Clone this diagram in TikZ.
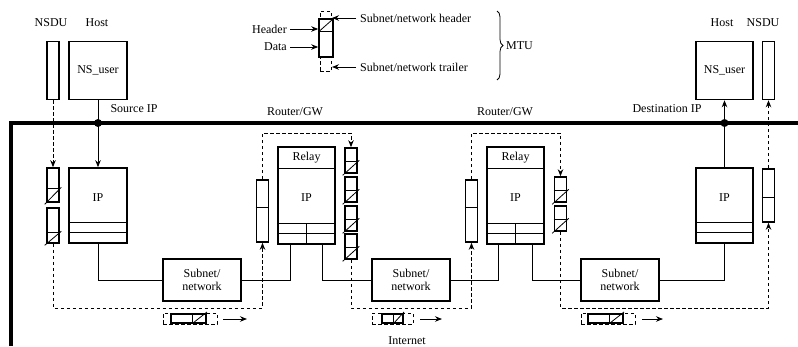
\documentclass[tikz,border=0pt]{standalone}
\usepackage{fontspec}
\setmainfont{Liberation Serif}
\usetikzlibrary{arrows.meta,decorations.pathreplacing,calc}
\tikzset{
  bx/.style={draw, line width=1.6pt, rectangle, inner sep=0pt},
  inl/.style={line width=0.8pt},
  conn/.style={line width=0.9pt},
  dsh/.style={line width=0.9pt, dash pattern=on 3.5pt off 2.5pt},
  arr/.style={-{Stealth[length=7pt,width=5.5pt]}},
  bus/.style={line width=3.5pt},
  lbl/.style={font=\fontsize{12}{13}\selectfont, inner sep=0pt},
  dotn/.style={circle, fill, inner sep=0pt, minimum size=8pt},
}
\newcommand\mypk[5]{% name, cx, top, bottom, hatch height
  \node[bx, minimum width=12pt, minimum height={(#4-#3)*1pt}] (#1) at (#2,{(#3+#4)/2}) {};
  \draw[inl] ($(#1.south west)+(0,-#5)$) -- ($(#1.south east)+(0,-#5)$);
  \draw[inl] ($(#1.south west)+(-1.5,1.5)$) -- ($(#1.south east)+(1.5,-#5-1.5)$);
}
\newcommand\mytall[5]{% name, cx, top, bottom, divider y
  \node[bx, minimum width=12pt, minimum height={(#4-#3)*1pt}] (#1) at (#2,{(#3+#4)/2}) {};
  \draw[inl] (#1.west |- 0,#5) -- (#1.east |- 0,#5);
}
\newcommand\mypacket[6]{% name, dashed x0, x1, inner x0, x1, hatch x
  \node[dsh, draw, rectangle, inner sep=0pt, minimum width={(#3-#2)*1pt}, minimum height=11pt] (#1) at ({(#2+#3)/2},318.5) {};
  \node[bx, minimum width={(#5-#4)*1pt}, minimum height=9pt] (#1i) at ({(#4+#5)/2},318.5) {};
  \draw[inl] (#6,314) -- (#6,323);
  \draw[inl] ({#6+1},323) -- ({#5+1},312);
}
\begin{document}
\begin{tikzpicture}[x=1pt,y=-1pt]
\useasboundingbox (0,0) rectangle (798,346);

% ---------- legend ----------
\node[dsh, draw, rectangle, inner sep=0pt, minimum width=11pt, minimum height=60pt] (mtu) at (325.5,41) {};
\node[bx, fill=white, minimum width=14pt, minimum height=38pt] (pdu) at (326,38) {};
\draw[inl] (pdu.west |- 0,31) -- (pdu.east |- 0,31);
\draw[inl] (319.5,31) -- (332.5,19.5);
\node[lbl, anchor=east] (hdrtxt) at (287,29) {Header};
\node[lbl, anchor=east] (datatxt) at (287,47) {Data};
\coordinate (hdrpt) at (pdu.west |- 0,29);
\coordinate (datapt) at (pdu.west |- 0,47);
\draw[conn, arr] (hdrtxt.east) ++(3,0) coordinate (hs) (hs) -- (hdrpt);
\draw[conn, arr] (datatxt.east) ++(3,0) coordinate (ds) (ds) -- (datapt);
\node[lbl, anchor=west] (snh) at (360,18) {Subnet/network header};
\node[lbl, anchor=west] (snt) at (360,67) {Subnet/network trailer};
\coordinate (snhpt) at (332,18);
\coordinate (sntpt) at (332,67);
\draw[conn, arr] (snh.west) ++(-4,0) coordinate (sh) (sh) -- (snhpt);
\draw[conn, arr] (snt.west) ++(-4,0) coordinate (st) (st) -- (sntpt);
\coordinate (brt) at (497,11);
\coordinate (brb) at (497,80);
\draw[line width=0.8pt, decorate, decoration={brace, amplitude=6pt}] (brt) -- (brb);
\node[lbl, anchor=west] (mtutxt) at (506,46) {MTU};

% ---------- bus ----------
\coordinate (busbl) at (11,346);
\coordinate (bustl) at (11,123);
\coordinate (busr) at (798,123);
\draw[bus] (busbl) -- (bustl) -- (busr);

% ---------- source host ----------
\node[lbl] (nsdut1) at (51,23) {NSDU};
\node[lbl] (hostt1) at (97,23) {Host};
\node[bx, minimum width=12pt, minimum height=58pt] (nsdu1) at (53,70.5) {};
\node[bx, minimum width=58pt, minimum height=58pt, font=\fontsize{12}{13}\selectfont] (nsu1) at (98,70.5) {NS\_user};
\node[lbl] (srcip) at (134,109) {Source IP};
\node[dotn] (dot1) at (98,123) {};
\node[bx, minimum width=58pt, minimum height=75pt] (ip1) at (98,205.5) {};
\node[lbl] (ip1t) at (98,198) {IP};
\draw[inl] (ip1.west |- 0,222) -- (ip1.east |- 0,222);
\draw[inl] (ip1.west |- 0,232) -- (ip1.east |- 0,232);
\mypk{pk1a}{53}{168}{202}{14}
\mypk{pk1b}{53}{208}{243}{11}
\draw[conn, arr] (nsu1.south) -- (ip1.north);
\draw[dsh, arr] (nsdu1.south) -- (pk1a.north);

% ---------- subnets ----------
\node[bx, minimum width=78pt, minimum height=42pt, align=center, font=\fontsize{12}{13}\selectfont] (sub1) at (202,280) {Subnet/\\network};
\node[bx, minimum width=78pt, minimum height=42pt, align=center, font=\fontsize{12}{13}\selectfont] (sub2) at (411,280) {Subnet/\\network};
\node[bx, minimum width=78pt, minimum height=42pt, align=center, font=\fontsize{12}{13}\selectfont] (sub3) at (620,280) {Subnet/\\network};

% ---------- router 1 ----------
\node[lbl] (rgw1) at (295,112) {Router/GW};
\node[bx, minimum width=57pt, minimum height=97pt] (r1) at (306.5,195.5) {};
\draw[inl] (r1.west |- 0,168) -- (r1.east |- 0,168);
\draw[inl] (r1.west |- 0,223) -- (r1.east |- 0,223);
\draw[inl] (r1.west |- 0,233) -- (r1.east |- 0,233);
\draw[inl] (r1.south) -- (r1.south |- 0,223);
\node[lbl] (relay1) at (306.5,157.5) {Relay};
\node[lbl] (r1ip) at (306.5,198) {IP};
\mytall{r1in}{262.5}{180}{242}{207}
\mypk{r1o1}{351}{148}{173}{12}
\mypk{r1o2}{351}{177}{202}{12}
\mypk{r1o3}{351}{206}{231}{12}
\mypk{r1o4}{351}{234}{259}{12}
\coordinate (r1a) at ($(r1.south west)+(13,0)$);
\coordinate (r1b) at ($(r1.south east)+(-13,0)$);

% ---------- router 2 ----------
\node[lbl] (rgw2) at (505,112) {Router/GW};
\node[bx, minimum width=57pt, minimum height=97pt] (r2) at (515.5,195.5) {};
\draw[inl] (r2.west |- 0,168) -- (r2.east |- 0,168);
\draw[inl] (r2.west |- 0,223) -- (r2.east |- 0,223);
\draw[inl] (r2.west |- 0,233) -- (r2.east |- 0,233);
\draw[inl] (r2.south) -- (r2.south |- 0,223);
\node[lbl] (relay2) at (515.5,157.5) {Relay};
\node[lbl] (r2ip) at (515.5,198) {IP};
\mytall{r2in}{471.5}{180}{242}{207}
\mypk{r2o1}{560.5}{177}{202}{12}
\mypk{r2o2}{560.5}{206}{231}{12}
\coordinate (r2a) at ($(r2.south west)+(12,0)$);
\coordinate (r2b) at ($(r2.south east)+(-12,0)$);

% ---------- destination host ----------
\node[lbl] (hostt2) at (722,23) {Host};
\node[lbl] (nsdut2) at (763,23) {NSDU};
\node[bx, minimum width=12pt, minimum height=58pt] (nsdu2) at (768.5,70.5) {};
\node[bx, minimum width=57pt, minimum height=58pt, font=\fontsize{12}{13}\selectfont] (nsu2) at (724.5,70.5) {NS\_user};
\node[lbl] (dstip) at (667,109) {Destination IP};
\node[dotn] (dot2) at (724.5,123) {};
\node[bx, minimum width=57pt, minimum height=75pt] (ip2) at (724.5,205.5) {};
\node[lbl] (ip2t) at (724.5,198) {IP};
\draw[inl] (ip2.west |- 0,222) -- (ip2.east |- 0,222);
\draw[inl] (ip2.west |- 0,232) -- (ip2.east |- 0,232);
\mytall{hin2}{768.5}{169}{222}{197}
\draw[conn, arr] (ip2.north) -- (nsu2.south);

% ---------- solid links ----------
\draw[conn] (ip1.south) |- (sub1.west);
\draw[conn] (sub1.east) -| (r1a);
\draw[conn] (r1b) |- (sub2.west);
\draw[conn] (sub2.east) -| (r2a);
\draw[conn] (r2b) |- (sub3.west);
\draw[conn] (sub3.east) -| (ip2.south);

% ---------- dashed data path ----------
\coordinate (yb) at (0,308);
\coordinate (yt) at (0,133);
\draw[dsh, arr] (pk1b.south) -- (pk1b.south |- yb) -| (r1in.south);
\draw[dsh, arr] (r1in.north) -- (r1in.north |- yt) -| (r1o1.north);
\draw[dsh, arr] (r1o4.south) -- (r1o4.south |- yb) -| (r2in.south);
\draw[dsh, arr] (r2in.north) -- (r2in.north |- yt) -| (r2o1.north);
\draw[dsh, arr] (r2o2.south) -- (r2o2.south |- yb) -| (hin2.south);
\draw[dsh, arr] (hin2.north) -- (nsdu2.south);

% ---------- packets on the subnets ----------
\mypacket{p1}{163}{217}{171}{206}{192}
\mypacket{p2}{372}{413}{382}{403}{393}
\mypacket{p3}{581}{635}{588}{623}{609}
\coordinate (a1e) at (247,319);
\coordinate (a2e) at (442,319);
\coordinate (a3e) at (663,319);
\draw[conn, arr] ($(p1.east)+(6,0.5)$) -- (a1e);
\draw[conn, arr] ($(p2.east)+(7,0.5)$) -- (a2e);
\draw[conn, arr] ($(p3.east)+(7,0.5)$) -- (a3e);
\node[lbl] (inet) at (407,341) {Internet};
\end{tikzpicture}
\end{document}
